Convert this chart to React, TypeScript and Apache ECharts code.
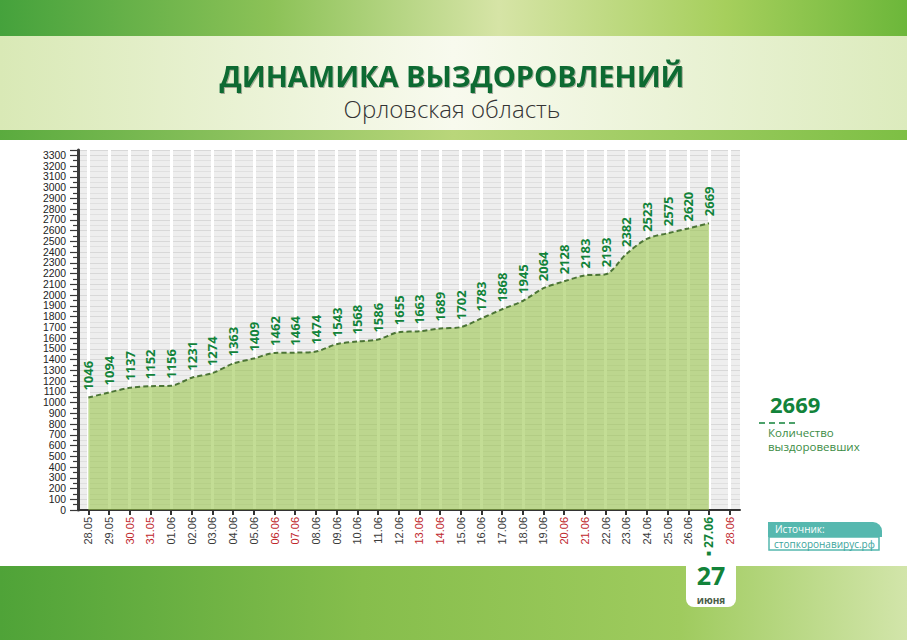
import React, { useEffect, useRef } from "react";
import * as echarts from "echarts";

const dates = [
  "28.05", "29.05", "30.05", "31.05", "01.06", "02.06", "03.06", "04.06",
  "05.06", "06.06", "07.06", "08.06", "09.06", "10.06", "11.06", "12.06",
  "13.06", "14.06", "15.06", "16.06", "17.06", "18.06", "19.06", "20.06",
  "21.06", "22.06", "23.06", "24.06", "25.06", "26.06", "27.06", "28.06",
];
const recovered = [
  1046, 1094, 1137, 1152, 1156, 1231, 1274, 1363, 1409, 1462, 1464, 1474,
  1543, 1568, 1586, 1655, 1663, 1689, 1702, 1783, 1868, 1945, 2064, 2128,
  2183, 2193, 2382, 2523, 2575, 2620, 2669,
];
const redDates = ["30.05", "31.05", "06.06", "07.06", "13.06", "14.06", "20.06", "21.06", "28.06"];
const highlightDate = "27.06";
const titleText = "ДИНАМИКА ВЫЗДОРОВЛЕНИЙ";
const subtitleText = "Орловская область";
const legendLines = ["Количество", "выздоровевших"];
const sourceLabel = "Источник:";
const sourceSite = "стопкоронавирус.рф";
const badgeDay = "27";
const badgeMonth = "июня";

const GREEN = "#12833a";
const NARROW = "'Liberation Sans Narrow', 'Liberation Sans', Arial, sans-serif";

export default function App() {
  const ref = useRef<HTMLDivElement>(null);
  useEffect(() => {
    document.body.style.margin = "0";
    const chart = echarts.init(ref.current!, undefined, { renderer: "svg" });
    const lastValue = recovered[recovered.length - 1];
    const option: any = {
      animation: false,
      backgroundColor: "#ffffff",
      grid: {
        left: 78,
        right: 167,
        top: 150,
        bottom: 130,
        show: true,
        backgroundColor: "#eeeeee",
        borderWidth: 0,
      },
      xAxis: {
        type: "category",
        data: dates,
        boundaryGap: true,
        axisLine: { show: true, lineStyle: { color: "#333", width: 2 } },
        axisTick: { show: true, alignWithLabel: true, length: 5, lineStyle: { color: "#333", width: 2 } },
        splitLine: { show: true, alignWithLabel: true, lineStyle: { color: "#ffffff", width: 3 } },
        axisLabel: {
          rotate: 90,
          margin: 7,
          fontSize: 11,
          fontFamily: NARROW,
          color: "#3a3a3a",
          interval: 0,
          formatter: (v: string) => {
            if (v === highlightDate) return "{d|■} {h|" + v + "}";
            if (redDates.includes(v)) return "{r|" + v + "}";
            return v;
          },
          rich: {
            r: { color: "#c0272d", fontSize: 11, fontFamily: NARROW },
            h: { color: GREEN, fontSize: 12, fontWeight: "bold", fontFamily: "'Open Sans', sans-serif" },
            d: { color: GREEN, fontSize: 8 },
          },
        },
      },
      yAxis: {
        type: "value",
        min: 0,
        max: 3350,
        interval: 100,
        axisLine: { show: true, lineStyle: { color: "#3a3a3a", width: 3 } },
        axisTick: { show: true, length: 8, lineStyle: { color: "#3a3a3a", width: 1.2 } },
        minorTick: { show: true, splitNumber: 2, length: 5, lineStyle: { color: "#3a3a3a", width: 1.2 } },
        splitLine: { show: true, lineStyle: { color: "#d8d8d8", width: 1 } },
        minorSplitLine: { show: true, lineStyle: { color: "#e0e0e0", width: 1 } },
        axisLabel: {
          margin: 12,
          fontSize: 10.4,
          fontFamily: NARROW,
          color: "#222",
          showMinLabel: true,
          showMaxLabel: false,
          hideOverlap: false,
          formatter: (v: number) => (v % 100 === 0 ? String(v) : ""),
        },
      },
      series: [
        {
          type: "line",
          data: recovered,
          smooth: 0.3,
          symbol: "circle",
          symbolSize: 2,
          showSymbol: true,
          itemStyle: { color: "rgba(0,0,0,0)", borderWidth: 0 },
          lineStyle: { color: "#4c7536", width: 2, type: [5, 3] },
          areaStyle: { color: "rgba(150,196,70,0.82)" },
          label: {
            show: true,
            position: "top",
            distance: 6,
            rotate: 90,
            align: "left",
            verticalAlign: "middle",
            fontSize: 13,
            fontWeight: "bold",
            fontFamily: "'Open Sans', sans-serif",
            color: GREEN,
          },
          labelLayout: { hideOverlap: false },
          z: 3,
        },
      ],
      graphic: {
        elements: [
          {
            type: "rect",
            z: -10,
            shape: { x: 0, y: 0, width: 907, height: 36 },
            style: {
              fill: new echarts.graphic.LinearGradient(0, 0, 1, 0, [
                { offset: 0, color: "#45a23c" },
                { offset: 0.3, color: "#8cc257" },
                { offset: 0.55, color: "#d6e4a6" },
                { offset: 0.8, color: "#a6cf5c" },
                { offset: 1, color: "#6cb73a" },
              ]),
            },
          },
          {
            type: "rect",
            z: -10,
            shape: { x: 0, y: 36, width: 907, height: 94 },
            style: {
              fill: new echarts.graphic.LinearGradient(0, 0, 1, 0, [
                { offset: 0, color: "#d9e9b6" },
                { offset: 0.5, color: "#f8faee" },
                { offset: 1, color: "#dcebbd" },
              ]),
            },
          },
          {
            type: "rect",
            z: -10,
            shape: { x: 0, y: 130, width: 907, height: 10 },
            style: {
              fill: new echarts.graphic.LinearGradient(0, 0, 1, 0, [
                { offset: 0, color: "#5aab3e" },
                { offset: 0.5, color: "#b9d67a" },
                { offset: 1, color: "#7dbf44" },
              ]),
            },
          },
          {
            type: "rect",
            z: -10,
            shape: { x: 0, y: 566, width: 907, height: 74 },
            style: {
              fill: new echarts.graphic.LinearGradient(0, 0, 1, 0, [
                { offset: 0, color: "#4fa338" },
                { offset: 0.4, color: "#86be4c" },
                { offset: 0.75, color: "#9fcb5e" },
                { offset: 1, color: "#d2e5aa" },
              ]),
            },
          },
          {
            type: "text",
            x: 452,
            y: 75,
            style: {
              text: titleText,
              fill: "#0d6a30",
              font: "bold 29px 'Open Sans', sans-serif",
              align: "center",
              verticalAlign: "middle",
              textShadowColor: "rgba(0,0,0,0.3)",
              textShadowOffsetX: 1,
              textShadowOffsetY: 1,
              textShadowBlur: 1,
            },
          },
          {
            type: "text",
            x: 452,
            y: 108,
            style: {
              text: subtitleText,
              fill: "#333333",
              font: "300 24px 'Open Sans', sans-serif",
              align: "center",
              verticalAlign: "middle",
            },
          },
          {
            type: "text",
            x: 770,
            y: 404,
            style: {
              text: String(lastValue),
              fill: GREEN,
              font: "bold 22px 'Open Sans', sans-serif",
              align: "left",
              verticalAlign: "middle",
            },
          },
          {
            type: "line",
            shape: { x1: 759, y1: 423, x2: 797, y2: 423 },
            style: { stroke: GREEN, lineWidth: 1.5, lineDash: [6, 4] },
          },
          {
            type: "text",
            x: 768,
            y: 426,
            style: {
              text: legendLines.join("\n"),
              fill: "#3b8c45",
              font: "11.5px 'Open Sans', sans-serif",
              lineHeight: 13.5,
              align: "left",
              verticalAlign: "top",
            },
          },
          {
            type: "rect",
            shape: { x: 768, y: 522, width: 114, height: 15, r: [0, 9, 0, 0] },
            style: { fill: "#56b8af" },
          },
          {
            type: "rect",
            shape: { x: 769, y: 537, width: 110, height: 13 },
            style: { fill: "#ffffff", stroke: "#56b8af", lineWidth: 1.5 },
          },
          {
            type: "text",
            x: 775,
            y: 529,
            style: {
              text: sourceLabel,
              fill: "#ffffff",
              font: "10px 'Open Sans', sans-serif",
              verticalAlign: "middle",
            },
          },
          {
            type: "text",
            x: 774,
            y: 543.5,
            style: {
              text: sourceSite,
              fill: "#3aa49b",
              font: "10px 'Open Sans', sans-serif",
              verticalAlign: "middle",
            },
          },
          {
            type: "rect",
            shape: { x: 686, y: 560, width: 50, height: 47, r: [0, 0, 8, 8] },
            style: { fill: "#ffffff" },
          },
          {
            type: "text",
            x: 711,
            y: 575,
            style: {
              text: badgeDay,
              fill: GREEN,
              font: "bold 25px 'Open Sans', sans-serif",
              lineHeight: 24,
              align: "center",
              verticalAlign: "middle",
            },
          },
          {
            type: "text",
            x: 711,
            y: 600,
            style: {
              text: badgeMonth,
              fill: "#4a5e48",
              font: "bold 10px 'Open Sans', sans-serif",
              lineHeight: 10,
              align: "center",
              verticalAlign: "middle",
            },
          },
        ],
      },
    };
    chart.setOption(option);
    return () => chart.dispose();
  }, []);
  return <div ref={ref} style={{ width: 907, height: 640 }} />;
}
